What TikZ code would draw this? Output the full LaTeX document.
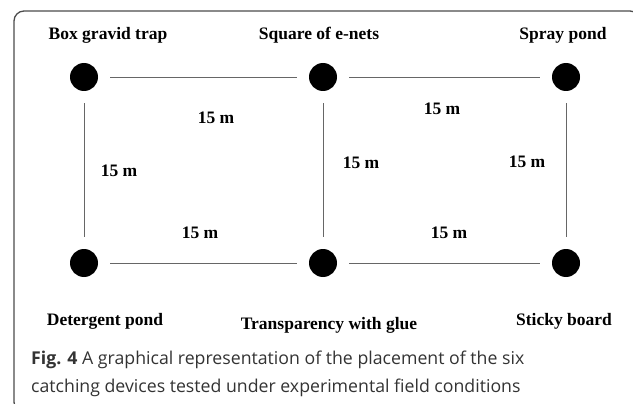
\documentclass[tikz,border=0pt]{standalone}
\usepackage{fontspec}
\setmainfont{Liberation Serif}
\newfontfamily\capfont{Open Sans}

\begin{document}
\begin{tikzpicture}[x=1pt,y=-1pt,
 dot/.style={circle,fill=black,minimum size=28pt,inner sep=0pt},
 lbl/.style={font=\bfseries\fontsize{17.5}{18}\selectfont,inner sep=0pt,anchor=base},
 dist/.style={font=\bfseries\fontsize{17.5}{18}\selectfont,inner sep=0pt},
 link/.style={draw=black!60,line width=0.9pt,shorten <=12pt,shorten >=12pt},
 capline/.style={font=\capfont\fontsize{17.7}{28}\selectfont,text=black!80,inner sep=0pt,anchor=base west}]
\clip (0,0) rectangle (633,404);
\draw[black!70,line width=1.3pt,rounded corners=10pt] (14,11) rectangle (640,412);
\foreach \N/\X/\Y in {bgt/84/77,sen/323/77,spp/566/77,dtp/84/263,twg/323/263,stb/566/263}
 {\node[dot] (\N) at (\X,\Y) {};}
\draw[link] (bgt) -- (sen);
\draw[link] (sen) -- (spp);
\draw[link] (dtp) -- (twg);
\draw[link] (twg) -- (stb);
\draw[link] (bgt) -- (dtp);
\draw[link] (sen) -- (twg);
\draw[link] (spp) -- (stb);
\node[lbl] (bgtl) at (108,40) {Box gravid trap};
\node[lbl] (senl) at (319,40) {Square of e-nets};
\node[lbl] (sppl) at (563,40) {Spray pond};
\node[lbl] (dtpl) at (105,325) {Detergent pond};
\node[lbl] (twgl) at (329,329) {Transparency with glue};
\node[lbl] (stbl) at (564,325) {Sticky board};
\foreach \N/\X/\Y in {d1/216/118,d2/442/109,d3/119/171,d4/361/163,d5/527/162,d6/200/233,d7/449/233}
 {\node[dist] (\N) at (\X,\Y) {15 m};}
\node[capline] (cap1) at (31,364) {\textbf{Fig. 4} A graphical representation of the placement of the six};
\node[capline] (cap2) at (31,392) {catching devices tested under experimental field conditions};
\end{tikzpicture}
\end{document}
